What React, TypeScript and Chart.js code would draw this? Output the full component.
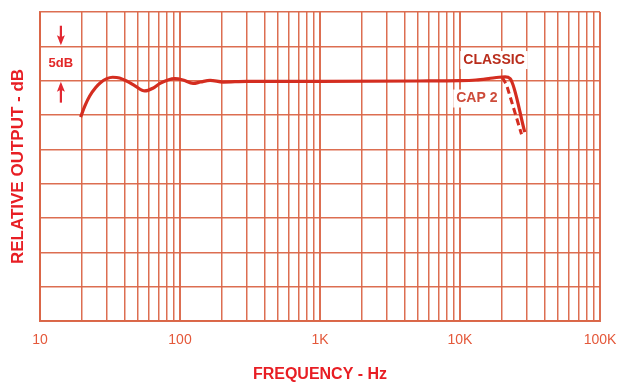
import { useEffect, useRef } from 'react';
import { Chart, registerables } from 'chart.js';

Chart.register(...registerables);

// Frequency response (Hz) and relative output (dB)
const freqClassic = [19.5, 21, 22.7, 25, 27, 30, 33, 37, 42, 48, 56, 64, 72, 82, 92, 105, 124, 140, 164, 203, 300, 1000, 5000, 10000, 13000, 16000, 19000, 21000, 22800, 29000];
const dbClassic = [-5.3, -3.6, -2.2, -1.0, -0.3, 0.3, 0.5, 0.4, -0.1, -0.8, -1.5, -1.1, -0.4, 0.1, 0.3, 0.1, -0.4, -0.2, 0.05, -0.2, -0.1, -0.1, -0.05, 0, 0.1, 0.3, 0.5, 0.55, 0.3, -7.5];
const freqCap2 = [20000, 21500, 27500];
const dbCap2 = [0.5, -0.6, -7.8];

const decades = [10, 100, 1000, 10000, 100000];
const decadeLabels = ['10', '100', '1K', '10K', '100K'];
const multipliers = [1, 2, 3, 4, 5, 6, 7, 8, 9];

const yMin = -35;
const yMax = 10;
const yStep = 5;

const seriesNames = ['CLASSIC', 'CAP 2'];
const stepLabel = '5dB';

const xTitle = 'FREQUENCY - Hz';
const yTitle = 'RELATIVE OUTPUT - dB';

const GRID = 'rgba(218, 102, 72, 0.95)';
const CURVE = 'rgb(212, 45, 32)';
const FONT = "'Liberation Sans', Arial, sans-serif";

const tickValues: number[] = [];
decades.slice(0, -1).forEach((d) => multipliers.forEach((m) => tickValues.push(d * m)));
tickValues.push(decades[decades.length - 1]);

const annotPlugin = {
  id: 'annot',
  beforeDatasetsDraw(chart: any) {
    const { ctx, scales } = chart;
    const x = scales.x;
    const y = scales.y;
    ctx.save();
    ctx.textAlign = 'center';
    ctx.textBaseline = 'middle';
    const labels = [
      { text: seriesNames[0], f: 17500, v: 3.0, color: 'rgb(185, 45, 28)' },
      { text: seriesNames[1], f: 13200, v: -2.6, color: 'rgb(205, 75, 58)' },
    ];
    ctx.font = `bold 14px ${FONT}`;
    labels.forEach((l) => {
      const px = x.getPixelForValue(l.f);
      const py = y.getPixelForValue(l.v);
      const w = ctx.measureText(l.text).width;
      ctx.fillStyle = '#fff';
      ctx.fillRect(px - w / 2 - 3, py - 9, w + 6, 18);
      ctx.fillStyle = l.color;
      ctx.fillText(l.text, px, py);
    });
    const ax = x.getPixelForValue(14.1);
    ctx.font = `bold 13px ${FONT}`;
    ctx.fillStyle = 'rgb(226, 40, 40)';
    ctx.fillText(stepLabel, ax, y.getPixelForValue(2.5));
    const drawArrow = (fromV: number, tipV: number) => {
      const y0 = y.getPixelForValue(fromV);
      const y1 = y.getPixelForValue(tipV);
      const dir = Math.sign(y1 - y0);
      ctx.strokeStyle = 'rgb(226, 40, 50)';
      ctx.lineWidth = 2.2;
      ctx.beginPath();
      ctx.moveTo(ax, y0);
      ctx.lineTo(ax, y1 - dir * 4);
      ctx.stroke();
      ctx.fillStyle = 'rgb(226, 40, 50)';
      ctx.beginPath();
      ctx.moveTo(ax, y1 - dir * 1);
      ctx.lineTo(ax - 4, y1 - dir * 11);
      ctx.lineTo(ax, y1 - dir * 9);
      ctx.lineTo(ax + 4, y1 - dir * 11);
      ctx.closePath();
      ctx.fill();
    };
    drawArrow(8.0, 5);
    drawArrow(-3.2, 0);
    ctx.restore();
  },
};

export default function App() {
  const ref = useRef<HTMLCanvasElement>(null);
  useEffect(() => {
    if (!ref.current) return;
    const chart = new Chart(ref.current, {
      type: 'line',
      data: {
        datasets: [
          {
            label: seriesNames[0],
            data: freqClassic.map((f, i) => ({ x: f, y: dbClassic[i] })),
            borderColor: CURVE,
            borderWidth: 3.2,
            pointRadius: 0,
            cubicInterpolationMode: 'monotone',
          },
          {
            label: seriesNames[1],
            data: freqCap2.map((f, i) => ({ x: f, y: dbCap2[i] })),
            borderColor: CURVE,
            borderWidth: 3,
            borderDash: [7, 4],
            pointRadius: 0,
            tension: 0,
          },
        ],
      },
      options: {
        responsive: false,
        animation: false,
        layout: { padding: { top: 12, right: 18, bottom: 0, left: 0 } },
        plugins: { legend: { display: false }, tooltip: { enabled: false } },
        scales: {
          x: {
            type: 'logarithmic',
            min: decades[0],
            max: decades[decades.length - 1],
            afterBuildTicks: (scale: any) => {
              scale.ticks = tickValues.map((v) => ({ value: v, major: decades.includes(v) }));
            },
            afterFit: (scale: any) => {
              scale.height = 62;
              scale.paddingLeft = 0;
              scale.paddingRight = 0;
            },
            ticks: {
              autoSkip: false,
              maxRotation: 0,
              padding: 11,
              color: 'rgb(228, 88, 58)',
              font: { family: FONT, size: 14 },
              callback: (value: any) => {
                const i = decades.indexOf(Number(value));
                return i >= 0 ? decadeLabels[i] : '';
              },
            },
            grid: {
              color: GRID,
              lineWidth: (c: any) => (c.tick && decades.includes(c.tick.value) ? 2 : 1.5),
              drawTicks: false,
            },
            border: { color: GRID, width: 2 },
            title: {
              display: true,
              text: xTitle,
              color: 'rgb(232, 30, 36)',
              font: { family: FONT, size: 16, weight: 'bold', lineHeight: 1 },
              padding: { top: 0, bottom: 0 },
            },
          },
          y: {
            min: yMin,
            max: yMax,
            afterFit: (scale: any) => {
              scale.width = 40;
            },
            ticks: { stepSize: yStep, display: false },
            grid: { color: GRID, lineWidth: 1.5, drawTicks: false },
            border: { color: GRID, width: 2 },
            title: {
              display: true,
              text: yTitle,
              color: 'rgb(232, 30, 36)',
              font: { family: FONT, size: 17, weight: 'bold', lineHeight: 1 },
              padding: { top: 9.5, bottom: 0 },
            },
          },
        },
      },
      plugins: [annotPlugin],
    } as any);
    return () => chart.destroy();
  }, []);
  return (
    <canvas
      ref={ref}
      width={618}
      height={383}
      style={{ position: 'fixed', left: 0, top: 0, width: 618, height: 383, background: '#fff' }}
    />
  );
}
